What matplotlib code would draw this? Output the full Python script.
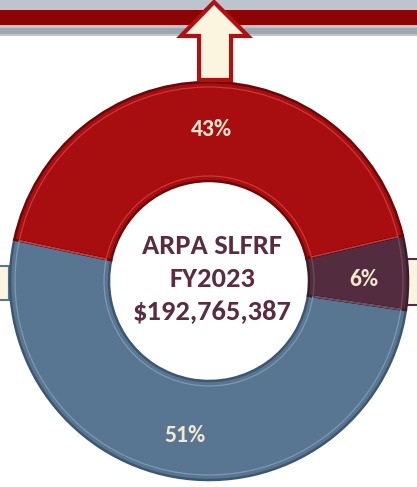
import matplotlib
matplotlib.use("Agg")
import matplotlib.pyplot as plt
from matplotlib.patches import Rectangle, Polygon
from matplotlib import font_manager as fm

# ---- data ----
categories = ["Category A", "Category B", "Category C"]
shares = [51, 6, 43]            # percent
labels = ["51%", "6%", "43%"]
colors = ["#587592", "#532C40", "#A80E10"]
edge_colors = ["#3E5670", "#3A1C2C", "#6E0606"]
center_lines = ["ARPA SLFRF", "FY2023", "$192,765,387"]

# pick a genuinely bold font file
def bold_font_file():
    for name in ["Carlito", "Lato", "Open Sans", "Noto Sans", "Liberation Sans", "DejaVu Sans"]:
        cands = [f for f in fm.fontManager.ttflist
                 if f.name == name and f.style == "normal"
                 and ("bold" in f.fname.lower() and "semi" not in f.fname.lower()
                      and "extra" not in f.fname.lower())]
        if cands:
            return cands[0].fname
    return None

ffile = bold_font_file()

def fprop(size):
    if ffile:
        return fm.FontProperties(fname=ffile, size=size)
    return fm.FontProperties(family="DejaVu Sans", weight="bold", size=size)

W, H = 417, 487
fig = plt.figure(figsize=(W / 100, H / 100), dpi=100)
ax = fig.add_axes([0, 0, 1, 1])

def Y(py):
    return H - py

# top band
ax.add_patch(Rectangle((0, Y(36)), W, 36, facecolor="#BCC4CD", edgecolor="none", zorder=1))
ax.add_patch(Rectangle((0, Y(34)), W, 6, facecolor="#9EA6AF", edgecolor="none", zorder=1))
ax.add_patch(Rectangle((0, Y(25)), W, 15, facecolor="#8C0404", edgecolor="none", zorder=2))

cx, cy, R = 209, Y(281), 199
ring = 99

wedges, _ = ax.pie(shares, colors=colors, startangle=168, counterclock=True,
                   center=(cx, cy), radius=R, frame=True,
                   wedgeprops=dict(width=ring, linewidth=1.8, edgecolor="#FFFFFF"))
for w, ec in zip(wedges, edge_colors):
    w.set_edgecolor(ec)
    w.set_zorder(3)

# bevel highlight
bev, _ = ax.pie(shares, colors=["none"] * 3, startangle=168, counterclock=True,
                center=(cx, cy), radius=R - 5, frame=True,
                wedgeprops=dict(width=ring - 10, linewidth=0.9, fill=False))
light = ["#7F98B2", "#6F4A5C", "#C8383A"]
for w, lc in zip(bev, light):
    w.set_edgecolor(lc)
    w.set_zorder(4)

# side connectors
ax.add_patch(Rectangle((-3, Y(300)), 12, 34, facecolor="#FBF4DE", edgecolor="#587592", lw=1.5, zorder=2))
ax.add_patch(Rectangle((407, Y(305)), 14, 46, facecolor="#FBF4DE", edgecolor="#532C40", lw=1.5, zorder=2))

# up arrow
arrow = [(199, Y(80)), (199, Y(36)), (181, Y(36)), (214, Y(2)), (248, Y(36)),
         (231, Y(36)), (231, Y(80))]
ax.add_patch(Polygon(arrow, closed=True, facecolor="#FBF4DE", edgecolor="#B01010",
                     lw=3, zorder=5, joinstyle="miter"))

# percent labels
label_pos = [(185, 436), (364, 280), (211, 130)]
for lab, (px, py) in zip(labels, label_pos):
    ax.text(px, Y(py), lab, ha="center", va="center", color="#F3E9CF",
            fontproperties=fprop(17), zorder=6)

# centre text
for line, py in zip(center_lines, [246, 279, 311]):
    ax.text(212, Y(py), line, ha="center", va="center", color="#5B2B40",
            fontproperties=fprop(20.5), zorder=6)

ax.set_xlim(0, W)
ax.set_ylim(0, H)
ax.set_aspect("auto")
ax.axis("off")
fig.savefig("out.png", dpi=100, facecolor="white")
